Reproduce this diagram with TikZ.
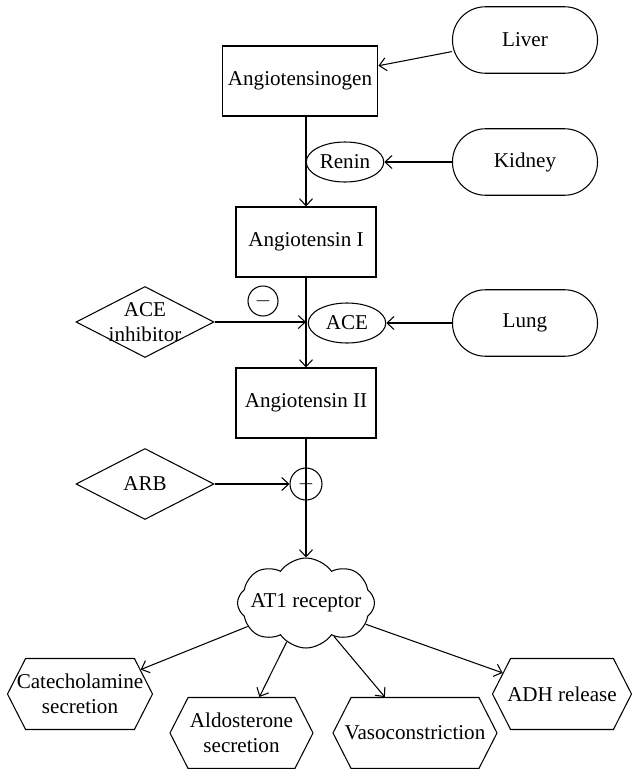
\documentclass[tikz,border=0pt]{standalone}
\usepackage{fontspec}
\setmainfont{Liberation Serif}
\usetikzlibrary{arrows.meta}
\usetikzlibrary{shapes.geometric,shapes.symbols}

\tikzset{
	box/.style={draw, minimum width=2.8cm, minimum height=1.4cm},
	organ/.style={draw, rounded corners=0.66cm, minimum width=2.9cm, minimum height=1.33cm},
	enzyme/.style={draw, ellipse, inner sep=0pt, minimum width=1.55cm, minimum height=0.8cm},
	drug/.style={draw, diamond, aspect=2, minimum width=2.76cm, minimum height=1.42cm},
	block/.style={draw, circle, inner sep=0pt},
	effect/.style={draw, signal, signal to=west and east, signal pointer angle=126, minimum height=1.42cm},
	receptor/.style={draw, cloud, cloud puffs=8, cloud puff arc=110, cloud ignores aspect, minimum width=2.74cm, minimum height=1.8cm},
	>={Straight Barb[length=1.4mm,width=2.6mm]}
}

\begin{document}
\begin{tikzpicture}[line width=0.6pt, font=\fontsize{12}{14}\selectfont]

		\useasboundingbox (0,0) rectangle (12.64,-15.38);

		% cascade
		\node [box, minimum width=3.04cm] (Agen) at (6.0,-1.62) {Angiotensinogen};
		\node [box] (AngI) at (6.12,-4.84) {Angiotensin I};
		\node [box] (AngII) at (6.12,-8.06) {Angiotensin II};

		% organs
		\node [organ] (Liver) at (10.5,-0.8) {Liver};
		\node [organ] (Kidney) at (10.5,-3.24) {Kidney};
		\node [organ] (Lung) at (10.5,-6.46) {Lung};

		\node [enzyme] (Renin) at (6.9,-3.24) {Renin};
		\node [enzyme] (ACE) at (6.94,-6.46) {ACE};

		% drugs
		\node [drug, label={[align=center]center:ACE\\inhibitor}] (ACEi) at (2.9,-6.44) {};
		\node [drug, label=center:ARB] (ARB) at (2.9,-9.68) {};
		\node [block, minimum size=0.6cm] (minus) at (5.26,-6.02) {$-$};

		\node [receptor, label=center:AT1 receptor] (AT1) at (6.12,-12.06) {};

		% effects
		\node [effect, minimum width=2.9cm, label={[align=center]center:Catecholamine\\secretion}] (Cat) at (1.6,-13.88) {};
		\node [effect, minimum width=2.86cm, label={[align=center]center:Aldosterone\\secretion}] (Aldo) at (4.83,-14.66) {};
		\node [effect, minimum width=3.28cm, label=center:Vasoconstriction] (Vaso) at (8.3,-14.66) {};
		\node [effect, minimum width=2.78cm, label=center:ADH release] (ADH) at (11.24,-13.88) {};

		\draw[->] (Liver.189) -- (Agen.11);
		\draw[->] (Kidney) -- (Renin);
		\draw[->] (Lung) -- (ACE);

		\draw[->] (AngI.north |- Agen.south) -- (AngI.north);
		\draw[->] (AngI.south) -- (AngII.north);
		\draw[->] (ACEi.east) -- (ACEi.east -| AngI.south);

		\draw[->] (AngII.south) -- (AT1.north);
		\node [block, minimum size=0.64cm] (stop) at (AngII.south |- ARB.east) {$-$};
		\draw[->] (ARB.east) -- (stop.west);

		\draw[->] (AT1) -- (Cat);
		\draw[->] (AT1) -- (Aldo);
		\draw[->] (AT1) -- (Vaso);
		\draw[->] (AT1) -- (ADH);

\end{tikzpicture}
\end{document}
